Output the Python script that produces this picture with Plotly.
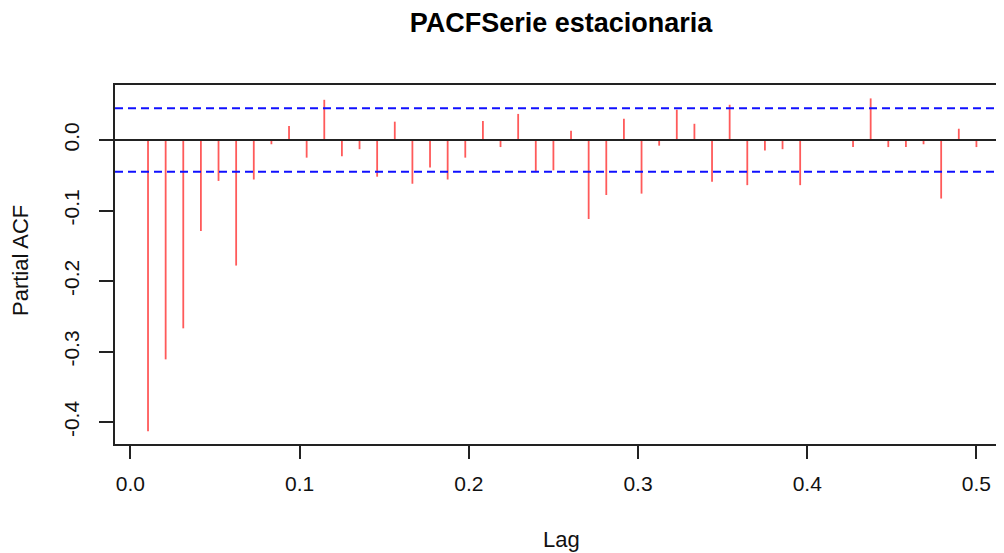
import plotly.graph_objects as go

# ---- data ----
frequency = 96
lag_index = list(range(1, 49))
pacf_values = [
    -0.413, -0.311, -0.267, -0.129, -0.058, -0.178, -0.056, -0.006,
    0.020, -0.025, 0.057, -0.023, -0.013, -0.052, 0.026, -0.062,
    -0.039, -0.056, -0.025, 0.027, -0.010, 0.037, -0.044, -0.043,
    0.013, -0.112, -0.078, 0.030, -0.076, -0.008, 0.043, 0.023,
    -0.059, 0.050, -0.064, -0.015, -0.013, -0.064, 0.001, -0.001,
    -0.010, 0.059, -0.010, -0.010, -0.006, -0.083, 0.016, -0.010,
]
conf_limit = 0.045
x_ticks = [0.0, 0.1, 0.2, 0.3, 0.4, 0.5]
x_tick_labels = ["0.0", "0.1", "0.2", "0.3", "0.4", "0.5"]
y_ticks = [-0.4, -0.3, -0.2, -0.1, 0.0]
y_tick_labels = ["-0.4", "-0.3", "-0.2", "-0.1", "0.0"]
title_text = "PACFSerie estacionaria"
x_title = "Lag"
y_title = "Partial ACF"

lags = [k / frequency for k in lag_index]

xs, ys = [], []
for lg, v in zip(lags, pacf_values):
    xs += [lg, lg, None]
    ys += [0, v, None]

FONT = "Arial, Liberation Sans, sans-serif"
W, H = 996, 545  # page body has an 8px margin

fig = go.Figure()
fig.add_trace(go.Scatter(x=xs, y=ys, mode="lines",
                         line=dict(color="#ff5a5a", width=1.8),
                         hoverinfo="skip", showlegend=False))

# zero line and confidence limits
fig.add_shape(type="line", xref="paper", x0=0, x1=1, yref="y", y0=0, y1=0,
              line=dict(color="#222222", width=2))
for c in (conf_limit, -conf_limit):
    fig.add_shape(type="line", xref="paper", x0=0, x1=1, yref="y", y0=c, y1=c,
                  line=dict(color="#1010ff", width=2, dash="8px,5px"))

fig.update_layout(
    width=W, height=H,
    margin=dict(l=107, r=0, t=77, b=109),
    paper_bgcolor="white", plot_bgcolor="white",
    font=dict(family=FONT, color="black", size=21),
    title=dict(text="<b>" + title_text + "</b>", font=dict(size=27, family=FONT, color="black"),
               xref="container", x=(561 - 8) / W, xanchor="center",
               yref="container", y=1 - 15 / H, yanchor="middle"),
    showlegend=False,
)
fig.update_xaxes(range=[-0.0091, 0.5163], tickvals=x_ticks, ticktext=x_tick_labels,
                 showgrid=False, zeroline=False, showline=True, mirror=True,
                 linecolor="#222222", linewidth=2, ticks="outside", ticklen=13,
                 tickwidth=1.5, tickcolor="#222222", ticklabelstandoff=7,
                 tickfont=dict(size=21, family=FONT, color="#111111"))
fig.update_yaxes(range=[-0.431, 0.078], tickvals=y_ticks, ticktext=y_tick_labels,
                 showgrid=False, zeroline=False, showline=True, mirror=False,
                 linecolor="#222222", linewidth=2, ticks="outside", ticklen=14,
                 tickwidth=1.5, tickcolor="#222222", tickangle=-90,
                 ticklabelstandoff=12,
                 tickfont=dict(size=21, family=FONT, color="#111111"))

fig.add_annotation(text=y_title, textangle=-90, showarrow=False,
                   xref="paper", x=0, xshift=20 - 115, xanchor="center",
                   yref="paper", y=(444 - 261) / 359, yanchor="middle",
                   font=dict(size=22, family=FONT, color="#111111"))
fig.add_annotation(text=x_title, showarrow=False,
                   xref="paper", x=(561.5 - 115) / 889, xanchor="center",
                   yref="paper", y=0, yshift=-(539 - 444), yanchor="middle",
                   font=dict(size=22, family=FONT, color="#111111"))

fig.write_html("out.html")
